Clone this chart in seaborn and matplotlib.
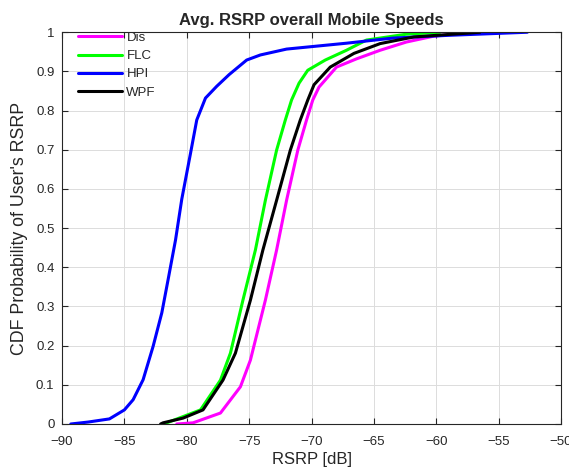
import matplotlib
matplotlib.use("Agg")
import matplotlib.pyplot as plt
import seaborn as sns
import pandas as pd

# CDF curves of average RSRP (dB) per scheme: (RSRP, cumulative probability)
dis_rsrp = [-80.8, -79.5, -77.3, -75.7, -74.9, -73.7, -72.8, -72.0, -71.1, -70.4,
            -69.9, -69.4, -68.0, -66.4, -64.5, -62.4, -60.2, -57.9, -57.0]
dis_cdf = [0.0, 0.003, 0.028, 0.095, 0.163, 0.316, 0.444, 0.571, 0.699, 0.776,
           0.827, 0.860, 0.911, 0.932, 0.954, 0.975, 0.990, 0.997, 1.0]

flc_rsrp = [-81.9, -81.6, -78.9, -77.3, -76.5, -75.5, -74.5, -73.7, -72.8, -72.1,
            -71.6, -71.0, -70.3, -68.9, -67.2, -65.6, -62.4, -59.7]
flc_cdf = [0.0, 0.003, 0.036, 0.112, 0.181, 0.316, 0.444, 0.571, 0.699, 0.776,
           0.827, 0.870, 0.903, 0.929, 0.954, 0.980, 0.995, 1.0]

hpi_rsrp = [-89.3, -87.9, -86.2, -85.0, -84.3, -83.5, -82.7, -82.0, -81.5, -80.9,
            -80.4, -79.7, -79.2, -78.5, -77.6, -76.6, -75.2, -74.1, -72.0, -67.2,
            -63.5, -59.1, -52.7]
hpi_cdf = [0.0, 0.005, 0.013, 0.036, 0.062, 0.113, 0.198, 0.284, 0.368, 0.470,
           0.574, 0.691, 0.776, 0.832, 0.862, 0.892, 0.929, 0.942, 0.957, 0.972,
           0.985, 0.992, 1.0]

wpf_rsrp = [-82.1, -81.9, -80.3, -78.7, -77.1, -76.1, -74.9, -73.9, -72.8, -71.7,
            -70.9, -70.3, -69.8, -68.5, -66.6, -64.5, -61.8, -56.5]
wpf_cdf = [0.0, 0.003, 0.015, 0.036, 0.112, 0.181, 0.316, 0.444, 0.571, 0.699,
           0.776, 0.827, 0.866, 0.911, 0.946, 0.971, 0.988, 1.0]

schemes = ["Dis", "FLC", "HPI", "WPF"]
colors = ["#FF00FF", "#00FF00", "#0000FF", "#000000"]
x_ticks = list(range(-90, -49, 5))
x_tick_labels = [str(t).replace("-", "\u2212") for t in x_ticks]
y_ticks = [i / 10 for i in range(11)]
y_tick_labels = ["0"] + [f"{v:.1f}" for v in y_ticks[1:-1]] + ["1"]

frames = []
for name, xs, ys in zip(schemes,
                        [dis_rsrp, flc_rsrp, hpi_rsrp, wpf_rsrp],
                        [dis_cdf, flc_cdf, hpi_cdf, wpf_cdf]):
    frames.append(pd.DataFrame({"RSRP": xs, "CDF": ys, "Scheme": name}))
df = pd.concat(frames, ignore_index=True)

sns.set_style("ticks")
plt.rcParams["font.family"] = ["Liberation Sans", "DejaVu Sans"]

fig = plt.figure(figsize=(5.69, 4.72), dpi=100)
ax = fig.add_axes([0.109, 0.1017, 0.877, 0.830])

sns.lineplot(data=df, x="RSRP", y="CDF", hue="Scheme", hue_order=schemes,
             palette=colors, sort=False, estimator=None, units="Scheme",
             linewidth=2.2, ax=ax)

ax.set_xlim(-90, -50)
ax.set_ylim(0, 1)
ax.set_xticks(x_ticks)
ax.set_xticklabels(x_tick_labels)
ax.set_yticks(y_ticks)
ax.set_yticklabels(y_tick_labels)
ax.grid(True, color="#dcdcdc", linewidth=0.7)
ax.set_axisbelow(True)
for side in ["top", "right", "bottom", "left"]:
    ax.spines[side].set_visible(True)
    ax.spines[side].set_color("#262626")
    ax.spines[side].set_linewidth(0.8)
ax.tick_params(direction="in", top=True, right=True, length=4, width=0.8,
               labelsize=9.5, colors="#262626", labelcolor="#262626")
ax.tick_params(axis="x", pad=8.5)
ax.tick_params(axis="y", pad=5.5)

ax.set_xlabel("RSRP [dB]", fontsize=12, color="#262626", labelpad=3)
ax.set_ylabel("CDF Probability of User's RSRP", fontsize=12.8, color="#262626",
              labelpad=6)
ax.set_title("Avg. RSRP overall Mobile Speeds", fontsize=12,
             fontweight="bold", pad=5)

ax.legend(loc="upper left", frameon=False, fontsize=9.5, handlelength=3.4,
          handletextpad=0.3, labelspacing=0.45, borderaxespad=0.1,
          bbox_to_anchor=(0.018, 1.018))

fig.savefig("out.png", dpi=100)
